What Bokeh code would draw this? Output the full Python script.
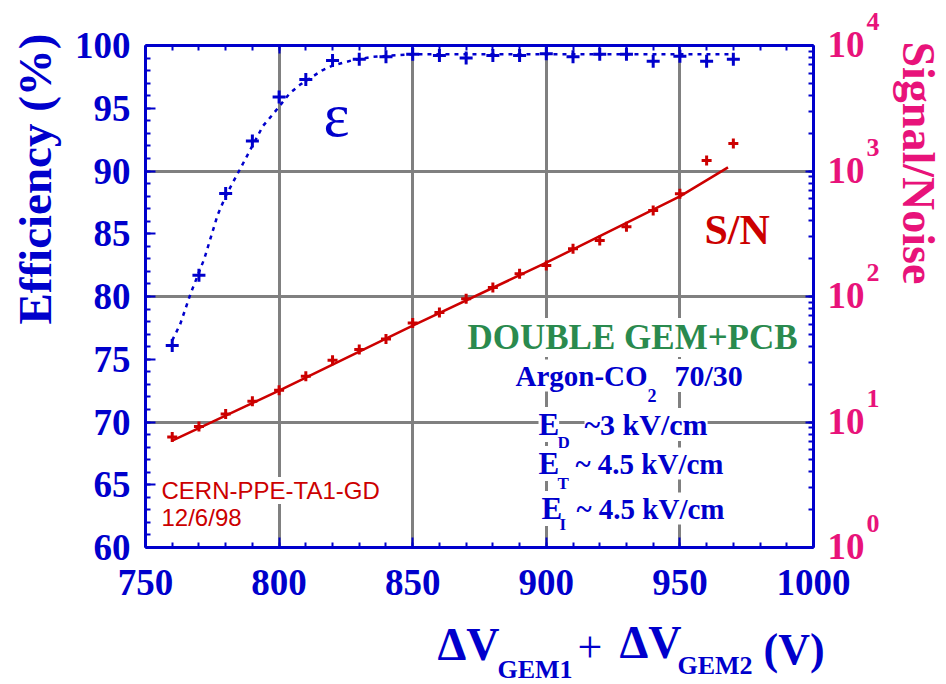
import math
from bokeh.plotting import figure
from bokeh.models import (Range1d, LogScale, LinearAxis, LogAxis, SingleIntervalTicker,
                          LogTicker, FixedTicker, Label, Grid)
from bokeh.embed import file_html
from bokeh.resources import INLINE

# ---------------- data ----------------
voltage = [760, 770, 780, 790, 800, 810, 820, 830, 840, 850, 860, 870,
           880, 890, 900, 910, 920, 930, 940, 950, 960, 970]
efficiency = [76.1, 81.7, 88.2, 92.4, 95.9, 97.3, 98.8, 98.9, 99.1, 99.3, 99.2, 99.0,
              99.2, 99.2, 99.35, 99.1, 99.3, 99.3, 98.75, 99.15, 98.75, 98.9]
eff_fit_v = [760, 763, 767, 772, 777, 780, 786, 790, 794, 798, 804, 808, 816, 820,
             827, 835, 850, 900, 970]
eff_fit = [76.5, 77.8, 80.3, 83.0, 86.5, 88.0, 90.4, 92.0, 93.6, 94.6, 96.2, 96.9,
           98.0, 98.4, 98.8, 99.1, 99.3, 99.3, 99.3]

signal_noise = [7.6, 9.2, 11.6, 14.6, 17.9, 23.2, 31.0, 37.8, 45.8, 61.5, 74.5, 96.0,
                118.0, 152.0, 177.0, 240.0, 280.0, 360.0, 485.0, 660.0, 1210.0, 1660.0]
sn_fit_v = [760, 800, 850, 900, 950, 968]
sn_fit = [7.1, 17.8, 58.7, 186.0, 627.0, 1070.0]

x_major_step = 50
y_major_step = 5
x_grid_ticks = [800, 850, 900, 950]
y_grid_ticks = [70, 80, 90]
sn_exponents = [0, 1, 2, 3, 4]

# ---------------- style ----------------
BLUE = "#0000CC"
RED = "#CC0000"
MAGENTA = "#E8137A"
GREEN = "#2A8A4E"
GRID = "#808080"
SERIF = "Liberation Serif"
SANS = "Liberation Sans"

# canvas and the data box on it (canvas pixels)
CW, CH = 946, 684
BL, BR, BT, BB = 145, 813, 45, 547
X0, X1, Y0, Y1 = 750, 1000, 60, 100
S0, S1 = 1.0, 1.0e4
kx = (X1 - X0) / (BR - BL)
ky = (Y1 - Y0) / (BB - BT)
kd = (math.log10(S1) - math.log10(S0)) / (BB - BT)

p = figure(width=CW, height=CH,
           x_range=Range1d(X0 - BL * kx, X1 + (CW - BR) * kx),
           y_range=Range1d(Y0 - (CH - BB) * ky, Y1 + BT * ky),
           output_backend="svg", toolbar_location=None, min_border=0,
           x_axis_location=None, y_axis_location=None)
p.background_fill_color = "white"
p.border_fill_color = "white"
p.outline_line_color = None
for g in p.grid:
    g.visible = False

p.extra_y_ranges = {"sn": Range1d(10 ** (math.log10(S0) - (CH - BB) * kd),
                                  10 ** (math.log10(S1) + BT * kd))}
p.extra_y_scales = {"sn": LogScale()}

def style_axis(ax, labels=True):
    ax.axis_line_color = BLUE
    ax.axis_line_width = 3
    ax.major_tick_line_color = BLUE
    ax.minor_tick_line_color = BLUE
    ax.major_tick_line_width = 2
    ax.minor_tick_line_width = 2
    ax.major_tick_out = 0
    ax.minor_tick_out = 0
    ax.major_tick_in = 10
    ax.minor_tick_in = 5
    if labels:
        ax.major_label_text_font = SERIF
        ax.major_label_text_font_style = "bold"
        ax.major_label_text_font_size = "37px"
        ax.major_label_text_color = BLUE
    else:
        ax.major_label_text_font_size = "1px"
        ax.major_label_text_alpha = 0
        ax.major_label_standoff = 0

bottom = LinearAxis(fixed_location=Y0, bounds=(X0, X1),
                    ticker=SingleIntervalTicker(interval=x_major_step, num_minor_ticks=5))
style_axis(bottom)
bottom.major_label_standoff = 22
p.add_layout(bottom, "below")

left = LinearAxis(fixed_location=X0, bounds=(Y0, Y1),
                  ticker=SingleIntervalTicker(interval=y_major_step, num_minor_ticks=5))
style_axis(left)
left.major_label_standoff = 15
p.add_layout(left, "left")

top = LinearAxis(fixed_location=Y1, bounds=(X0, X1),
                 ticker=SingleIntervalTicker(interval=x_major_step, num_minor_ticks=5))
style_axis(top, labels=False)
top.major_tick_in = 8
p.add_layout(top, "above")

right = LogAxis(fixed_location=X1, bounds=(S0, S1), y_range_name="sn",
                ticker=LogTicker(num_minor_ticks=10))
style_axis(right, labels=False)
right.major_tick_in = 8
p.add_layout(right, "right")

# grid lines limited to the data box
if "cross_bounds" in Grid.properties():
    p.add_layout(Grid(dimension=0, ticker=FixedTicker(ticks=x_grid_ticks),
                      bounds=(X0, X1), cross_bounds=(Y0, Y1),
                      grid_line_color=GRID, grid_line_width=3), "center")
    p.add_layout(Grid(dimension=1, ticker=FixedTicker(ticks=y_grid_ticks),
                      bounds=(Y0, Y1), cross_bounds=(X0, X1),
                      grid_line_color=GRID, grid_line_width=3), "center")
else:
    p.segment(x0=x_grid_ticks, y0=[Y0] * len(x_grid_ticks), x1=x_grid_ticks,
              y1=[Y1] * len(x_grid_ticks), line_color=GRID, line_width=3, level="underlay")
    p.segment(x0=[X0] * len(y_grid_ticks), y0=y_grid_ticks, x1=[X1] * len(y_grid_ticks),
              y1=y_grid_ticks, line_color=GRID, line_width=3, level="underlay")

# ---------------- glyphs ----------------
p.line(eff_fit_v, eff_fit, color=BLUE, line_width=2.5, line_dash="4 5")
p.scatter(voltage, efficiency, marker="cross", size=13, line_width=3, color=BLUE)
p.line(sn_fit_v, sn_fit, color=RED, line_width=2.5, y_range_name="sn")
p.scatter(voltage, signal_noise, marker="cross", size=10, line_width=3, color=RED,
          y_range_name="sn")

# ---------------- texts ----------------
# canvas pixel -> data coordinates of the linear scales
def dx(px):
    return X0 + (px - BL) * kx

def dy(py):
    return Y0 + (BB - py) * ky

def lab(text, px, py, size, color, style="bold", font=SERIF, angle=0.0,
        align="left", bg=None):
    kw = {}
    if bg is not None:
        kw = dict(background_fill_color=bg)
    p.add_layout(Label(x=dx(px), y=dy(py), text=text, text_font=font,
                       text_font_style=style, text_font_size=f"{size}px",
                       text_color=color, angle=angle, text_align=align,
                       text_baseline="middle", **kw))

# axis titles
lab("Efficiency (%)", 34, 33, 47, BLUE, angle=math.pi / 2, align="right")
lab("Signal/Noise", 918, 41, 46, MAGENTA, angle=-math.pi / 2, align="left")

# right axis tick labels (10^n)
for e in sn_exponents:
    p.add_layout(Label(x=dx(827), y=10.0 ** e, y_offset=1, y_range_name="sn", text="10",
                       text_font=SERIF, text_font_style="bold", text_font_size="37px",
                       text_color=MAGENTA, text_baseline="middle", text_align="left"))
    p.add_layout(Label(x=dx(866), y=10.0 ** e, y_offset=24, y_range_name="sn",
                       text=str(e), text_font=SERIF, text_font_style="bold",
                       text_font_size="26px", text_color=MAGENTA,
                       text_baseline="middle", text_align="left"))

# x-axis title
lab("\u0394V", 437, 644, 46, BLUE)
lab("GEM1", 497, 669, 26, BLUE)
lab("+", 577, 647, 44, BLUE, style="normal")
lab("\u0394V", 619, 642, 46, BLUE)
lab("GEM2", 677, 665, 26, BLUE)
lab("(V)", 763, 649, 44, BLUE)

# curve labels
lab("\u03b5", 336, 114, 62, BLUE, style="normal", align="center")
lab("S/N", 704, 229, 42, RED)

# run-condition block
lab("DOUBLE GEM+PCB", 467, 337, 35, GREEN, bg="white")
lab("Argon-CO", 515, 375, 29, BLUE, bg="white")
lab("2", 647, 395, 18, BLUE)
lab("70/30", 674, 375, 30, BLUE, bg="white")
lab("E", 538, 424, 31, BLUE, bg="white")
lab("D", 557, 442, 17, BLUE)
lab("~3 kV/cm", 584, 424, 30, BLUE, bg="white")
lab("E", 538, 463, 31, BLUE, bg="white")
lab("T", 557, 483, 17, BLUE)
lab("~ 4.5 kV/cm", 575, 463, 29, BLUE, bg="white")
lab("E", 541, 508, 31, BLUE, bg="white")
lab("I", 559, 524, 17, BLUE)
lab("~ 4.5 kV/cm", 576, 508, 29, BLUE, bg="white")

# stamp
lab("CERN-PPE-TA1-GD", 161, 490, 24, RED, style="normal", font=SANS, bg="white")
lab("12/6/98", 161, 517, 24, RED, style="normal", font=SANS, bg="white")

open("out.html", "w").write(file_html(p, INLINE))
